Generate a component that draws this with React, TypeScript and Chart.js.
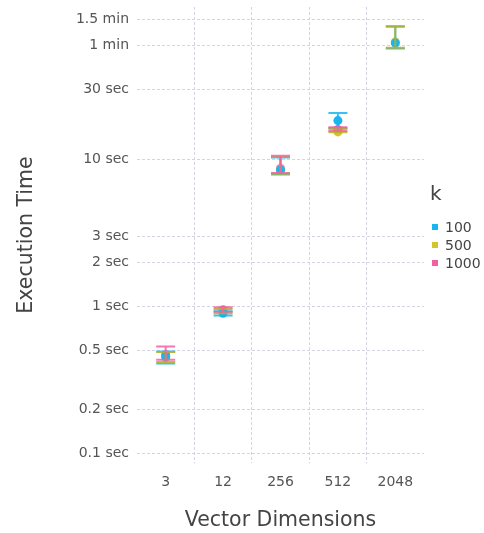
import { useEffect, useRef } from 'react';
import { Chart, registerables } from 'chart.js';

Chart.register(...registerables);

const categories = ['3', '12', '256', '512', '2048'];
const kLabels = ['100', '500', '1000'];
const kColors = ['#18b5ee', '#d4c52b', '#ef62a2'];

const k100Mean = [0.457, 0.9, 8.5, 18.4, 62];
const k100Low = [0.41, 0.87, 7.9, 16.2, 57];
const k100High = [0.495, 0.93, 10.3, 20.7, 80.5];

const k500Mean = [0.45, 0.93, 8.6, 15.4, 63];
const k500Low = [0.42, 0.9, 8.0, 15.3, 57.5];
const k500High = [0.49, 0.96, 10.4, 16.4, 80];

const k1000Mean = [0.47, 0.95, 8.7, 16.0, null];
const k1000Low = [0.435, 0.92, 8.1, 15.6, null];
const k1000High = [0.535, 0.99, 10.6, 16.6, null];

const yTickValues = [0.1, 0.2, 0.5, 1, 2, 3, 10, 30, 60, 90];
const yTickLabels = ['0.1 sec', '0.2 sec', '0.5 sec', '1 sec', '2 sec', '3 sec', '10 sec', '30 sec', '1 min', '1.5 min'];

const FONT = "'DejaVu Sans', sans-serif";
const GRID = '#d6d4e4';

const errorBarPlugin = {
  id: 'errorBars',
  afterDatasetsDraw(chart: any) {
    const { ctx } = chart;
    const xs = chart.scales.x;
    const ys = chart.scales.y;
    chart.data.datasets.forEach((ds: any) => {
      ctx.save();
      ctx.strokeStyle = ds.errColor || ds.borderColor;
      ctx.globalAlpha = 0.85;
      ctx.lineWidth = 2;
      ds.data.forEach((_: number, i: number) => {
        if (ds.errLow[i] == null || ds.errHigh[i] == null) return;
        const px = xs.getPixelForValue(i);
        const yl = ys.getPixelForValue(ds.errLow[i]);
        const yh = ys.getPixelForValue(ds.errHigh[i]);
        ctx.beginPath();
        ctx.moveTo(px, yl);
        ctx.lineTo(px, yh);
        ctx.moveTo(px - 9.5, yl);
        ctx.lineTo(px + 9.5, yl);
        ctx.moveTo(px - 9.5, yh);
        ctx.lineTo(px + 9.5, yh);
        ctx.stroke();
      });
      ctx.restore();
    });
  },
};

const legendPlugin = {
  id: 'customLegend',
  afterDraw(chart: any) {
    const { ctx } = chart;
    ctx.save();
    ctx.fillStyle = '#444';
    ctx.font = `20px ${FONT}`;
    ctx.textAlign = 'left';
    ctx.textBaseline = 'middle';
    ctx.fillText('k', 430, 195);
    ctx.font = `14px ${FONT}`;
    chart.data.datasets.forEach((ds: any, i: number) => {
      const cy = 227 + i * 18;
      ctx.fillStyle = ds.backgroundColor;
      ctx.fillRect(432, cy - 3, 6, 6);
      ctx.fillStyle = '#444';
      ctx.fillText(ds.label, 445, cy + 1);
    });
    ctx.restore();
  },
};

export default function App() {
  const ref = useRef<HTMLCanvasElement>(null);
  useEffect(() => {
    if (!ref.current) return;
    const means = [k100Mean, k500Mean, k1000Mean];
    const lows = [k100Low, k500Low, k1000Low];
    const highs = [k100High, k500High, k1000High];
    const chart = new Chart(ref.current, {
      type: 'line',
      data: {
        labels: categories,
        datasets: kLabels.map((k, i) => ({
          label: k,
          data: means[i],
          errLow: lows[i],
          errHigh: highs[i],
          errColor: i === 1 ? '#b8b020' : kColors[i],
          showLine: false,
          borderColor: kColors[i],
          backgroundColor: kColors[i],
          pointRadius: 4.5,
          pointBorderWidth: 0,
          pointBackgroundColor: kColors[i],
        })) as any,
      },
      options: {
        responsive: false,
        animation: false,
        layout: { padding: { top: 7, right: 60, left: 0, bottom: 0 } },
        plugins: { legend: { display: false }, tooltip: { enabled: false } },
        scales: {
          x: {
            type: 'category',
            offset: true,
            afterFit: (s: any) => {
              s.height = 70;
              s.paddingLeft = 0;
              s.paddingRight = 0;
            },
            grid: {
              offset: true,
              drawTicks: false,
              color: (c: any) => (c.type !== 'tick' || c.index === 0 ? 'rgba(0,0,0,0)' : GRID),
              lineWidth: 1,
            },
            border: { display: false, dash: [3, 2] },
            ticks: { color: '#555', font: { family: FONT, size: 14 }, padding: 11 },
            title: {
              display: true,
              text: 'Vector Dimensions',
              color: '#444',
              font: { family: FONT, size: 20.5 },
              padding: { top: 0, bottom: 0 },
            },
          },
          y: {
            type: 'logarithmic',
            min: 0.0862,
            max: 109,
            afterFit: (s: any) => {
              s.width = 137;
              s.paddingTop = 0;
              s.paddingBottom = 0;
            },
            afterBuildTicks: (s: any) => {
              s.ticks = yTickValues.map((v) => ({ value: v }));
            },
            grid: { drawTicks: false, color: GRID, lineWidth: 1 },
            border: { display: false, dash: [3, 2] },
            ticks: {
              autoSkip: false,
              color: '#555',
              font: { family: FONT, size: 14 },
              padding: 8,
              callback: (v: any) => {
                const idx = yTickValues.indexOf(Number(v));
                return idx >= 0 ? yTickLabels[idx] : '';
              },
            },
            title: {
              display: true,
              text: 'Execution Time',
              color: '#444',
              font: { family: FONT, size: 20.5 },
              padding: { top: 14, bottom: 0 },
            },
          },
        },
      } as any,
      plugins: [errorBarPlugin, legendPlugin],
    });
    return () => chart.destroy();
  }, []);
  return (
    <div style={{ position: 'fixed', left: 0, top: 0, width: 484, height: 533, background: '#fff' }}>
      <canvas ref={ref} width={484} height={533} style={{ display: 'block' }} />
    </div>
  );
}
